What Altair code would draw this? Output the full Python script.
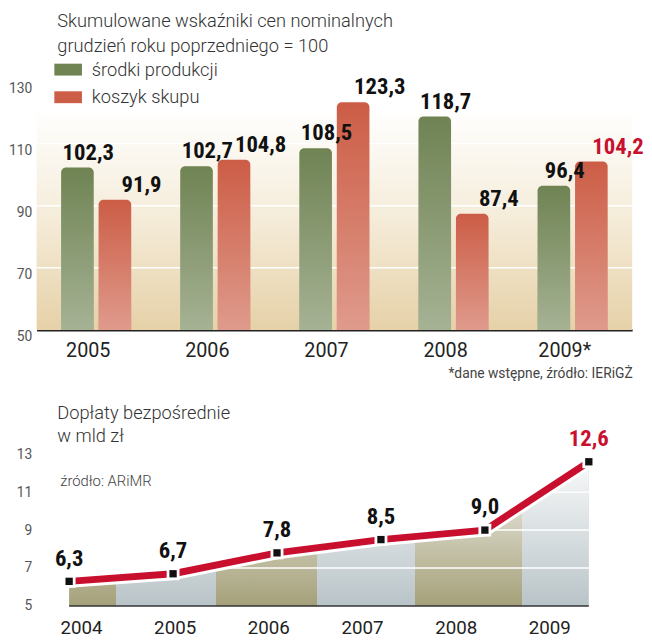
import altair as alt
import pandas as pd

# ---------------- data ----------------
years_top = ["2005", "2006", "2007", "2008", "2009*"]
srodki_produkcji = [102.3, 102.7, 108.5, 118.7, 96.4]
koszyk_skupu = [91.9, 104.8, 123.3, 87.4, 104.2]
series_names = ["środki produkcji", "koszyk skupu"]
y_ticks_top = [50, 70, 90, 110, 130]
grid_top = [70, 90, 110]

years_bottom = [2004, 2005, 2006, 2007, 2008, 2009]
doplaty = [6.3, 6.7, 7.8, 8.5, 9.0, 12.6]
y_ticks_bottom = [5, 7, 9, 11, 13]
grid_bottom = [7, 9, 11]

# ---------------- style ----------------
GREEN = "#6f8353"
RED = "#cc5d46"
CRIMSON = "#c8102e"
KHAKI = "#a4a079"
BLUEG = "#b9c4c8"
TEXT_FONT = "Roboto"
NUM_FONT = "Roboto Condensed, Noto Sans Condensed, DejaVu Sans Condensed, sans-serif"
NUM_SIZE = 23
W = 604
H1 = 274
H2 = 154

rows = []
for yr, a, b in zip(years_top, srodki_produkcji, koszyk_skupu):
    rows.append({"year": yr, "series": series_names[0], "value": a})
    rows.append({"year": yr, "series": series_names[1], "value": b})
top_df = pd.DataFrame(rows)
bot_df = pd.DataFrame({"year": years_bottom, "value": doplaty})

label_expr = "replace(format(datum.value, '.1f'), '.', ',')"

# ---------------- top chart ----------------
x_scale_top = alt.Scale(domain=years_top, paddingInner=0, paddingOuter=0)
y_scale_top = alt.Scale(domain=[50, 137], nice=False, zero=False)
off_scale = alt.Scale(domain=series_names, paddingInner=0.13, paddingOuter=0.654)

x_top_axis_def = alt.Axis(
    title="*dane wstępne, źródło: IERiGŻ", labelAngle=0, labelFont=TEXT_FONT,
    labelFontSize=20, labelColor="#222", labelPadding=11, labelOffset=-8,
    ticks=False, domain=True, domainColor="#222", domainWidth=2, grid=False,
    titleAnchor="end", titleFont=TEXT_FONT, titleFontSize=14,
    titleFontWeight="normal", titleColor="#444", titlePadding=6,
)
y_top_axis_def = alt.Axis(
    values=y_ticks_top, title=None, labelFont=TEXT_FONT, labelFontSize=14,
    labelColor="#555", labelBaseline="top", labelPadding=5, ticks=False,
    domain=False, grid=False,
)
x_top = alt.X("year:N", sort=years_top, scale=x_scale_top, axis=x_top_axis_def)
y_top = alt.Y("value:Q", scale=y_scale_top, axis=y_top_axis_def)
x_off = alt.XOffset("series:N", sort=series_names, scale=off_scale)

bg = alt.Chart(pd.DataFrame({"v": [0]})).mark_rect(
    fill=alt.Gradient(
        gradient="linear",
        stops=[
            alt.GradientStop(offset=0, color="#ffffff"),
            alt.GradientStop(offset=0.18, color="#ffffff"),
            alt.GradientStop(offset=0.55, color="#f6eedd"),
            alt.GradientStop(offset=1, color="#e6d1a8"),
        ],
        x1=0, x2=0, y1=0, y2=1,
    )
).encode(x=alt.value(0), x2=alt.value("width"), y=alt.value(0), y2=alt.value("height"))

grid_t = alt.Chart(pd.DataFrame({"value": grid_top})).mark_rule(
    color="white", strokeWidth=1.5
).encode(y=y_top)

bars = alt.Chart(top_df).mark_bar(
    cornerRadiusTopLeft=5, cornerRadiusTopRight=5
).encode(
    x=x_top, xOffset=x_off, y=y_top, y2=alt.Y2(datum=50),
    color=alt.Color(
        "series:N", sort=series_names,
        scale=alt.Scale(domain=series_names, range=[GREEN, RED]),
        legend=alt.Legend(
            title=None, orient="none", legendX=18, legendY=-4,
            symbolType="M-1,-0.43L1,-0.43L1,0.43L-1,0.43Z", symbolSize=784,
            symbolStrokeWidth=0, symbolOpacity=1, labelFont=TEXT_FONT,
            labelFontSize=18.5, labelFontWeight=300, labelColor="#333",
            labelOffset=10, rowPadding=4, padding=0, direction="vertical",
        ),
    ),
)

bars_shade = alt.Chart(top_df).mark_bar(
    cornerRadiusTopLeft=5, cornerRadiusTopRight=5,
    fill=alt.Gradient(
        gradient="linear",
        stops=[
            alt.GradientStop(offset=0, color="rgba(255,255,255,0)"),
            alt.GradientStop(offset=1, color="rgba(255,255,255,0.38)"),
        ],
        x1=0, x2=0, y1=0, y2=1,
    ),
).encode(x=x_top, xOffset=x_off, y=y_top, y2=alt.Y2(datum=50))

text_g = alt.Chart(top_df).transform_filter(
    alt.datum.series == series_names[0]
).transform_calculate(label=label_expr).mark_text(
    font=NUM_FONT, fontSize=NUM_SIZE, fontWeight="bold", dx=11, dy=-8,
    baseline="alphabetic", align="center", color="#111",
).encode(x=x_top, xOffset=x_off, y=y_top, text="label:N")

text_r = alt.Chart(top_df).transform_filter(
    alt.datum.series == series_names[1]
).transform_calculate(label=label_expr).mark_text(
    font=NUM_FONT, fontSize=NUM_SIZE, fontWeight="bold", dx=27, dy=-8,
    baseline="alphabetic", align="center",
).encode(
    x=x_top, xOffset=x_off, y=y_top, text="label:N",
    color=alt.condition("datum.year == '2009*'", alt.value(CRIMSON), alt.value("#111")),
)

top = alt.layer(bg, grid_t, bars, bars_shade, text_g, text_r).properties(
    width=W, height=H1,
    title=alt.TitleParams(
        ["Skumulowane wskaźniki cen nominalnych", "grudzień roku poprzedniego = 100"],
        anchor="start", frame="group", dx=21, offset=4.5, font=TEXT_FONT,
        fontSize=18.5, fontWeight=300, color="#333", lineHeight=25,
    ),
)

# ---------------- bottom chart ----------------
x_scale_pts = alt.Scale(domain=[2003.687, 2009.417], nice=False, zero=False)
x_pts = alt.X("year:Q", scale=x_scale_pts, axis=None)
y_scale_bot = alt.Scale(domain=[5, 13], nice=False, zero=False)
y_bot_axis_def = alt.Axis(
    values=y_ticks_bottom, title=None, labelFont=TEXT_FONT, labelFontSize=14,
    labelColor="#555", labelPadding=5, ticks=False, domain=False, grid=False,
)
y_bot = alt.Y("value:Q", scale=y_scale_bot, axis=y_bot_axis_def)

b1, b2, b3, b4, b5 = 0.091, 0.283, 0.476, 0.666, 0.871
band_stops = []
cols = [KHAKI, BLUEG, KHAKI, BLUEG, KHAKI, BLUEG]
edges = [0, b1, b2, b3, b4, b5, 1]
for i, c in enumerate(cols):
    band_stops.append(alt.GradientStop(offset=edges[i], color=c))
    band_stops.append(alt.GradientStop(offset=edges[i + 1], color=c))

area = alt.Chart(bot_df).mark_area(
    fill=alt.Gradient(gradient="linear", stops=band_stops, x1=0, x2=1, y1=0, y2=0)
).encode(x=x_pts, y=y_bot, y2=alt.Y2(datum=5))

area_shade = alt.Chart(bot_df).mark_area(
    fill=alt.Gradient(
        gradient="linear",
        stops=[
            alt.GradientStop(offset=0, color="rgba(255,255,255,0.9)"),
            alt.GradientStop(offset=0.5, color="rgba(255,255,255,0.45)"),
            alt.GradientStop(offset=1, color="rgba(255,255,255,0)"),
        ],
        x1=0, x2=0, y1=0, y2=1,
    )
).encode(x=x_pts, y=y_bot, y2=alt.Y2(datum=5))

grid_b = alt.Chart(pd.DataFrame({"value": grid_bottom})).mark_rule(
    color="white", strokeWidth=1.5
).encode(y=y_bot)

base_rule = alt.Chart(bot_df).mark_rule(color="#333", strokeWidth=1.5).encode(
    x=alt.X("min(year):Q", scale=x_scale_pts, axis=None),
    x2=alt.X2("max(year)"),
    y=alt.Y(datum=5, scale=y_scale_bot, axis=y_bot_axis_def),
)

halo = alt.Chart(bot_df).mark_line(
    color="white", strokeWidth=13, strokeCap="round", strokeJoin="round"
).encode(x=x_pts, y=y_bot)
red_line = alt.Chart(bot_df).mark_line(
    color=CRIMSON, strokeWidth=7, strokeJoin="round"
).encode(x=x_pts, y=y_bot)
gap_pts = alt.Chart(bot_df).mark_point(
    shape="square", filled=True, color="white", size=170, opacity=1
).encode(x=x_pts, y=y_bot)
dots = alt.Chart(bot_df).mark_point(
    shape="square", filled=True, color="#111", size=55, opacity=1
).encode(x=x_pts, y=y_bot)

vals_b = alt.Chart(bot_df).transform_calculate(label=label_expr).mark_text(
    font=NUM_FONT, fontSize=NUM_SIZE, fontWeight="bold", dy=-16,
    baseline="alphabetic", align="center",
).encode(
    x=x_pts, y=y_bot, text="label:N",
    color=alt.condition("datum.year == 2009", alt.value(CRIMSON), alt.value("#111")),
)

src_b = alt.Chart(pd.DataFrame({"t": ["źródło: ARiMR"]})).mark_text(
    align="left", baseline="middle", font=TEXT_FONT, fontSize=15,
    fontWeight=300, color="#444",
).encode(x=alt.value(24), y=alt.value(27), text="t:N")

inner = alt.layer(area, area_shade, grid_b, base_rule, halo, red_line, gap_pts, dots, vals_b, src_b)

year_axis = alt.Chart(pd.DataFrame({"year": years_bottom})).mark_point(opacity=0).encode(
    x=alt.X(
        "year:Q",
        scale=alt.Scale(domain=[2003.526, 2009.884], nice=False, zero=False),
        axis=alt.Axis(
            values=years_bottom, format="d", title=None, labelFont=TEXT_FONT,
            labelFontSize=19, labelColor="#222", labelPadding=13, ticks=False,
            domain=False, grid=False, labelFlush=False, labelOverlap=False,
        ),
    ),
    y=alt.value(0),
)

bottom = alt.layer(inner, year_axis).resolve_scale(x="independent").properties(
    width=W, height=H2,
    title=alt.TitleParams(
        ["Dopłaty bezpośrednie", "w mld zł"],
        anchor="start", frame="group", dx=21, offset=-17, font=TEXT_FONT,
        fontSize=18.5, fontWeight=300, color="#333", lineHeight=23,
    ),
)

chart = alt.vconcat(top, bottom, spacing=24).properties(
    padding={"left": 0, "top": 0, "right": 0, "bottom": 0}
).configure_view(stroke=None)

chart.save("out.html", embed_options={"renderer": "svg", "actions": False})
